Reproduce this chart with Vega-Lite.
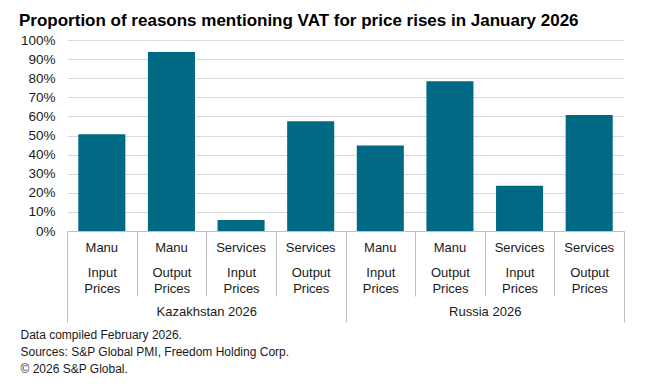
{
  "$schema": "https://vega.github.io/schema/vega-lite/v6.json",
  "autosize": {"type": "none"},
  "width": 557,
  "height": 191,
  "padding": {"left": 67, "top": 40, "right": 31, "bottom": 158},
  "title": {
    "text": "Proportion of reasons mentioning VAT for price rises in January 2026",
    "anchor": "start",
    "frame": "group",
    "dx": -48,
    "dy": 18.5,
    "fontSize": 17,
    "fontWeight": "bold",
    "color": "#000000",
    "baseline": "alphabetic",
    "offset": 9
  },
  "data": {
    "values": [
      {"id": "Manu|Input Prices|K", "group": "Kazakhstan 2026", "value": 0.507},
      {"id": "Manu|Output Prices|K", "group": "Kazakhstan 2026", "value": 0.937},
      {"id": "Services|Input Prices|K", "group": "Kazakhstan 2026", "value": 0.058},
      {"id": "Services|Output Prices|K", "group": "Kazakhstan 2026", "value": 0.574},
      {"id": "Manu|Input Prices|R", "group": "Russia 2026", "value": 0.447},
      {"id": "Manu|Output Prices|R", "group": "Russia 2026", "value": 0.784},
      {"id": "Services|Input Prices|R", "group": "Russia 2026", "value": 0.237},
      {"id": "Services|Output Prices|R", "group": "Russia 2026", "value": 0.607}
    ]
  },
  "layer": [
    {
      "mark": {"type": "bar", "color": "#006a85"},
      "encoding": {
        "x": {
          "field": "id",
          "type": "nominal",
          "sort": null,
          "scale": {"paddingInner": 0.324, "paddingOuter": 0.162},
          "axis": {
            "orient": "bottom",
            "title": null,
            "labelExpr": "split(datum.value, '|')[0]",
            "labelAngle": 0,
            "labelFontSize": 13,
            "labelColor": "#1a1a1a",
            "labelPadding": 10,
            "ticks": false,
            "tickSize": 0,
            "domain": true,
            "domainColor": "#bfbfbf",
            "domainWidth": 1,
            "grid": false
          }
        },
        "y": {
          "field": "value",
          "type": "quantitative",
          "scale": {"domain": [0, 1], "nice": false},
          "axis": {
            "title": null,
            "format": ".0%",
            "values": [0, 0.1, 0.2, 0.3, 0.4, 0.5, 0.6, 0.7, 0.8, 0.9, 1],
            "labelFontSize": 13.5,
            "labelColor": "#1a1a1a",
            "labelPadding": 12,
            "ticks": false,
            "tickSize": 0,
            "domain": false,
            "grid": true,
            "gridColor": "#d9d9d9",
            "gridWidth": 1
          }
        }
      }
    },
    {
      "mark": {"type": "point", "opacity": 0},
      "encoding": {
        "x": {
          "field": "id",
          "type": "nominal",
          "sort": null,
          "scale": {"paddingInner": 0.324, "paddingOuter": 0.162},
          "axis": {
            "orient": "bottom",
            "title": null,
            "labelExpr": "split(split(datum.value, '|')[1], ' ')",
            "labelAngle": 0,
            "labelFontSize": 13,
            "labelColor": "#1a1a1a",
            "labelLineHeight": 16,
            "labelPadding": 35.5,
            "ticks": false,
            "tickSize": 0,
            "domain": false,
            "grid": false
          }
        }
      }
    },
    {
      "mark": {"type": "rule", "opacity": 0},
      "encoding": {
        "x": {
          "datum": 0,
          "type": "quantitative",
          "scale": {"domain": [0, 8], "nice": false, "zero": false},
          "axis": {
            "orient": "bottom",
            "title": null,
            "values": [0, 1, 2, 3, 4, 5, 6, 7, 8],
            "labels": false,
            "ticks": true,
            "tickColor": "#bfbfbf",
            "tickWidth": 1,
            "tickSize": {"condition": {"test": "datum.value % 4 === 0", "value": 91}, "value": 65},
            "domain": false,
            "grid": false
          }
        }
      }
    },
    {
      "mark": {"type": "point", "opacity": 0},
      "encoding": {
        "x": {
          "field": "group",
          "type": "nominal",
          "sort": null,
          "scale": {"paddingInner": 0, "paddingOuter": 0},
          "axis": {
            "orient": "bottom",
            "title": ["Data compiled February 2026.", "Sources: S&P Global PMI, Freedom Holding Corp.", "© 2026 S&P Global."],
            "titleFontSize": 12,
            "titleFontWeight": "normal",
            "titleColor": "#1a1a1a",
            "titleAnchor": "start",
            "titleAlign": "left",
            "titleBaseline": "top",
            "titleLineHeight": 17,
            "titleX": -47,
            "titleY": 98.5,
            "labelAngle": 0,
            "labelFontSize": 13,
            "labelColor": "#1a1a1a",
            "labelPadding": 74,
            "ticks": false,
            "tickSize": 0,
            "domain": false,
            "grid": false
          }
        }
      }
    }
  ],
  "resolve": {"scale": {"x": "independent"}, "axis": {"x": "independent"}},
  "config": {
    "view": {"stroke": null},
    "font": "Liberation Sans"
  }
}
